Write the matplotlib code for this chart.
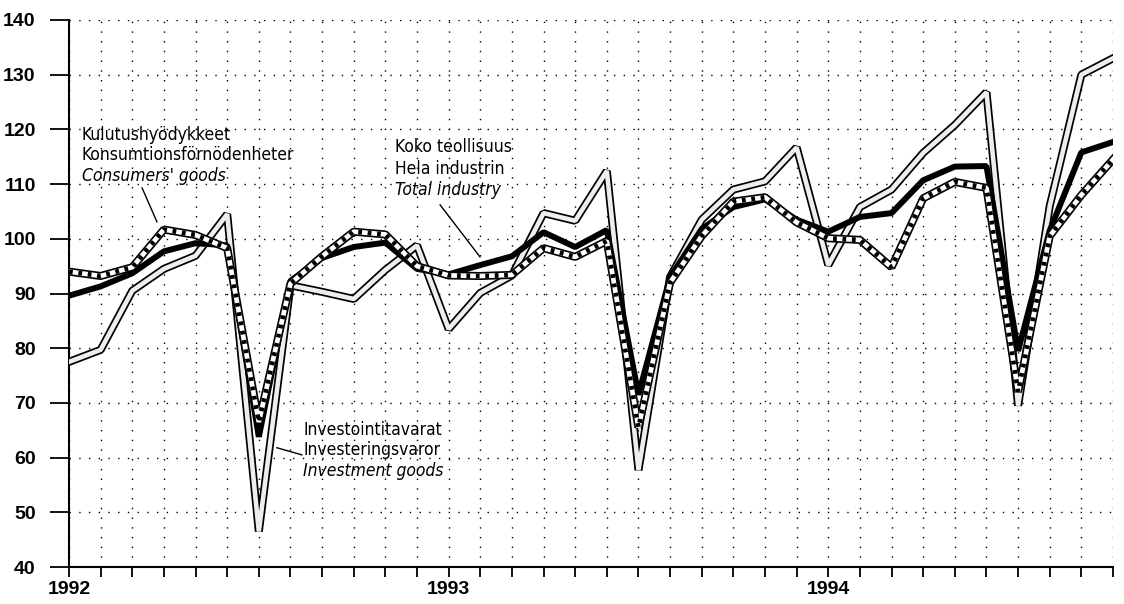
import matplotlib.pyplot as plt
import numpy as np
from matplotlib import font_manager

# monthly index values, Jan 1992 - Oct 1994
months = np.arange(34)
year_labels = {0: '1992', 12: '1993', 24: '1994'}

investment = [77.5, 79.7, 90.5, 94.5, 96.9, 104.5, 46.5, 91.5, 90.3, 89.0, 94.3, 98.8,
              83.5, 90.1, 93.3, 104.7, 103.3, 112.4, 57.7, 93.0, 103.5, 109.0, 110.5, 116.7,
              95.2, 105.8, 109.0, 115.7, 120.8, 126.8, 69.5, 106.0, 130.0, 133.0]

total = [89.6, 91.3, 93.7, 97.7, 99.2, 98.8, 63.8, 92.3, 96.5, 98.5, 99.3, 94.5,
         93.5, 95.2, 96.8, 101.2, 98.5, 101.6, 71.5, 93.0, 101.8, 105.8, 107.2, 103.5,
         101.3, 104.0, 104.7, 110.7, 113.2, 113.3, 79.5, 101.5, 115.8, 117.7]

consumers = [94.0, 93.2, 94.8, 101.7, 100.7, 98.3, 66.5, 91.8, 96.8, 101.3, 100.8, 95.0,
             93.3, 93.2, 93.4, 98.3, 96.7, 99.6, 65.5, 92.0, 100.5, 106.8, 107.6, 103.0,
             100.1, 99.8, 94.8, 107.4, 110.4, 109.3, 72.0, 100.5, 108.0, 114.5]


# narrow sans for the labels (upright + matching italic), else Liberation Sans a bit smaller
def is_narrow(f):
    return 'Narrow' in f.name or 'Condensed' in f.name or 'condensed' in str(f.stretch)


def is_regular(f):
    return f.weight in (400, 'normal', 'regular')


fp_up = font_manager.FontProperties(family=['Liberation Sans', 'DejaVu Sans'], size=11.5)
fp_it = font_manager.FontProperties(family=['Liberation Sans', 'DejaVu Sans'],
                                    style='italic', size=11.5)
ups = [f for f in font_manager.fontManager.ttflist
       if is_narrow(f) and 'Sans' in f.name and f.style == 'normal' and is_regular(f)]
for up in ups:
    its = [f for f in font_manager.fontManager.ttflist
           if f.name == up.name and f.stretch == up.stretch and f.style in ('italic', 'oblique')
           and is_regular(f)]
    if its:
        fp_up = font_manager.FontProperties(fname=up.fname, size=12.5)
        fp_it = font_manager.FontProperties(fname=its[0].fname, size=12.5)
        break

fig = plt.figure(figsize=(11.24, 6.04), dpi=100)
ax = fig.add_axes([69 / 1124, 37 / 604, (1113 - 69) / 1124, (567 - 20) / 604])

join = 'bevel'
# investment goods: outlined light band
ax.plot(months, investment, color='black', lw=5.8, solid_joinstyle=join, zorder=3)
ax.plot(months, investment, color='#eeeeee', lw=3.3, solid_joinstyle=join, zorder=3.1)

# total industry: thick black
ax.plot(months, total, color='black', lw=4.3, solid_joinstyle=join, zorder=4)

# consumers' goods: outlined hatched band
ax.plot(months, consumers, color='black', lw=5.8, solid_joinstyle=join, zorder=5)
ax.plot(months, consumers, color='white', lw=3.4, solid_joinstyle=join, zorder=5.1)
ax.plot(months, consumers, color='black', lw=3.4, dashes=[0.8, 1.2],
        dash_capstyle='butt', dash_joinstyle=join, zorder=5.2)

ax.set_xlim(0, 33)
ax.set_ylim(40, 140)
ax.set_xticks(months)
ax.set_xticklabels([year_labels.get(m, '') for m in months])
ax.set_yticks(np.arange(40, 141, 10))

for side in ['top', 'right']:
    ax.spines[side].set_visible(False)
for side in ['left', 'bottom']:
    ax.spines[side].set_linewidth(1.5)

ax.tick_params(axis='y', length=14, width=1.3, pad=10, labelsize=14)
ax.tick_params(axis='x', length=7, width=1.3, pad=3, labelsize=14)
for t in ax.get_xticklabels() + ax.get_yticklabels():
    t.set_fontweight('bold')
    t.set_family(['Liberation Sans', 'DejaVu Sans'])

ax.grid(True, color='black', lw=1.0, linestyle=(0, (1, 6)))
ax.set_axisbelow(True)

# labels
ax.text(0.41, 119.0, 'Kulutushyödykkeet', fontproperties=fp_up, va='center')
ax.text(0.41, 115.3, 'Konsumtionsförnödenheter', fontproperties=fp_up, va='center')
ax.text(0.41, 111.5, "Consumers' goods", fontproperties=fp_it, va='center')
ax.plot([2.31, 2.78], [109.3, 103.1], color='black', lw=1.0, zorder=6)

ax.text(10.3, 116.8, 'Koko teollisuus', fontproperties=fp_up, va='center')
ax.text(10.3, 112.8, 'Hela industrin', fontproperties=fp_up, va='center')
ax.text(10.3, 108.9, 'Total industry', fontproperties=fp_it, va='center')
ax.plot([11.73, 12.99], [106.2, 96.7], color='black', lw=1.0, zorder=6)

ax.text(7.4, 65.0, 'Investointitavarat', fontproperties=fp_up, va='center')
ax.text(7.4, 61.4, 'Investeringsvaror', fontproperties=fp_up, va='center')
ax.text(7.4, 57.6, 'Investment goods', fontproperties=fp_it, va='center')
ax.plot([6.57, 7.36], [61.8, 60.5], color='black', lw=1.0, zorder=6)

plt.savefig('out.png', dpi=100)
